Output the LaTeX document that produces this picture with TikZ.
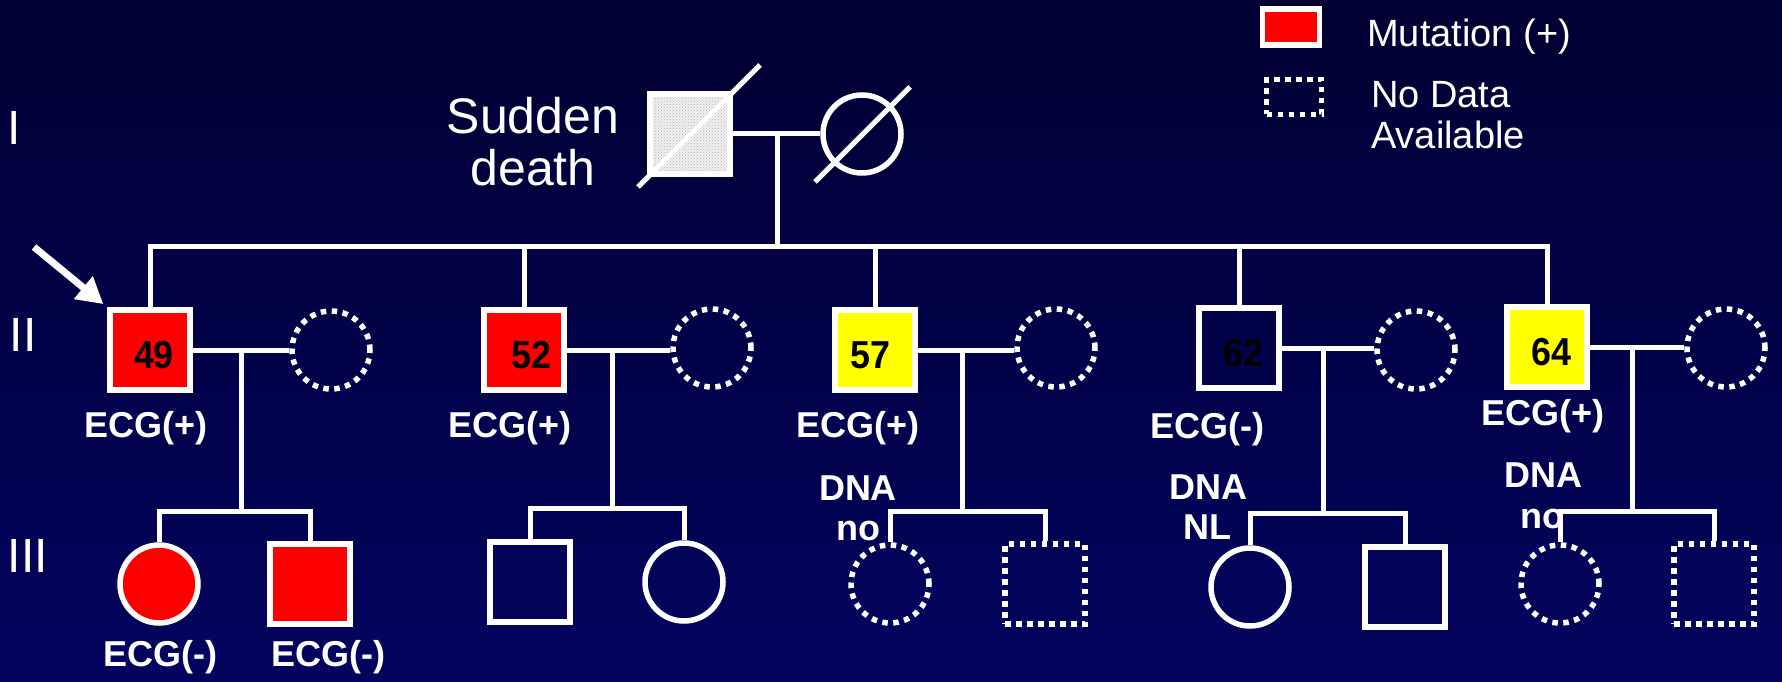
\documentclass[tikz,border=0pt]{standalone}
\usepackage{fontspec}
\setmainfont{Liberation Sans}
\newfontfamily\numfont[FakeStretch=0.92]{Liberation Sans}
\usetikzlibrary{arrows.meta,patterns}
\definecolor{bgtop}{RGB}{0,0,50}
\definecolor{bgbot}{RGB}{4,4,96}
\definecolor{mred}{RGB}{255,0,0}
\definecolor{myel}{RGB}{255,255,0}
\definecolor{deadfill}{RGB}{240,240,240}
\begin{document}
\begin{tikzpicture}[x=1pt,y=-1pt,
  conn/.style={draw=white, line width=5pt},
  male/.style={rectangle, draw=white, line width=5.5pt, minimum size=80pt, inner sep=0pt,
    font=\numfont\fontsize{39}{39}\selectfont\bfseries, text=black, text height=36pt, text depth=0pt},
  female/.style={circle, draw=white, line width=5.5pt, minimum size=78pt, inner sep=0pt},
  nodata/.style={dash pattern=on 5.5pt off 5.5pt},
  lbl/.style={text=white, font=\fontsize{36}{40}\selectfont\bfseries, inner sep=0pt, anchor=base},
  roman/.style={text=white, font=\fontsize{48}{48}\selectfont, inner sep=0pt},
  legtxt/.style={text=white, font=\fontsize{38}{40}\selectfont, inner sep=0pt, anchor=base west, align=left},
  slash/.style={draw=white, line width=5pt}
]
\shade[top color=bgtop, bottom color=bgbot] (0,0) rectangle (1782,682);
\useasboundingbox (0,0) rectangle (1782,682);

% Roman numerals
\node[roman] (g1) at (14,128) {I};
\node[roman] (g2) at (23,335) {II};
\node[roman] (g3) at (28,556) {III};

% Legend
\node[rectangle, draw=white, line width=5.5pt, fill=mred, minimum width=57pt, minimum height=36pt, inner sep=0pt] (lg1) at (1291,27) {};
\node[legtxt] (lgt1) at (1367,47) {Mutation (+)};
\node[rectangle, draw=white, line width=5.5pt, nodata, minimum width=55pt, minimum height=35pt, inner sep=0pt] (lg2) at (1294,97) {};
\node[legtxt] (lgt2) at (1371,148) {No Data\\Available};

% Generation I
\node[text=white, font=\fontsize{50}{52}\selectfont, align=center, inner sep=0pt, anchor=base] (sd) at (533,185) {Sudden\\death};
\node[male, preaction={fill=deadfill}, preaction={pattern=crosshatch dots, pattern color=gray!60}] (i1) at (690,134) {};
\node[female] (i2) at (862,134) {};
\draw[slash] (i1.center) ++(-52,53) -- ++(122,-122);
\draw[slash] (i2.center) ++(-47,48) -- ++(95,-95);

% Generation II
\node[male, fill=mred] (a) at (150,350) {\hspace*{8pt}49};
\node[female, nodata] (aw) at (331,350) {};
\node[male, fill=mred] (b) at (524,350) {\hspace*{14pt}52};
\node[female, nodata] (bw) at (712,348) {};
\node[male, fill=myel] (c) at (875,350) {57\hspace*{10pt}};
\node[female, nodata] (cw) at (1056,348) {};
\node[male] (d) at (1239,348) {\hspace*{8pt}62};
\node[female, nodata] (dw) at (1416,350) {};
\node[male, fill=myel] (e) at (1547,347) {\hspace*{8pt}64};
\node[female, nodata] (ew) at (1726,348) {};

% Generation III
\node[female, fill=mred] (a1) at (159,584) {};
\node[male, fill=mred] (a2) at (310,584) {};
\node[male] (b1) at (530,582) {};
\node[female] (b2) at (684,582) {};
\node[female, nodata] (c1) at (890,584) {};
\node[male, nodata] (c2) at (1045,584) {};
\node[female] (d1) at (1250,587) {};
\node[male] (d2) at (1405,587) {};
\node[female, nodata] (e1) at (1560,584) {};
\node[male, nodata] (e2) at (1714,584) {};

% Labels
\node[lbl] (la) at (146,437) {ECG(+)};
\node[lbl] (lb) at (510,437) {ECG(+)};
\node[lbl] (lc) at (858,437) {ECG(+)};
\node[lbl] (ld) at (1207,438) {ECG(-)};
\node[lbl] (le) at (1543,425) {ECG(+)};
\node[lbl] (lc2) at (858,500) {DNA};
\node[lbl] (lc3) at (858,540) {no};
\node[lbl] (ld2) at (1208,499) {DNA};
\node[lbl] (ld3) at (1207,539) {NL};
\node[lbl] (le2) at (1543,487) {DNA};
\node[lbl] (le3) at (1542,528) {no};
\node[lbl] (la1) at (160,666) {ECG(-)};
\node[lbl] (la2) at (328,666) {ECG(-)};

% Connectors generation I
\coordinate (mi) at (777,134);
\coordinate (si) at (777,246);
\draw[conn] (i1.east) -- (i2.west);
\draw[conn] (mi) -- (si);
\draw[conn] (a.north) -- (a.north |- si) -- (e.north |- si) -- (e.north);
\draw[conn] (b.north) -- (b.north |- si);
\draw[conn] (c.north) -- (c.north |- si);
\draw[conn] (d.north) -- (d.north |- si);

% Marriages generation II
\draw[conn] (a.east) -- (aw.west);
\draw[conn] (b.east) -- (b.east -| bw.west);
\draw[conn] (c.east) -- (c.east -| cw.west);
\draw[conn] (d.east) -- (d.east -| dw.west);
\draw[conn] (e.east) -- (e.east -| ew.west);

\coordinate (ma) at (241,350); \coordinate (sa) at (241,511);
\coordinate (mb) at (612,350); \coordinate (sb) at (612,508);
\coordinate (mc) at (962,350); \coordinate (sc) at (962,511);
\coordinate (md) at (1323,348); \coordinate (sd2) at (1323,513);
\coordinate (me) at (1632,347); \coordinate (se) at (1632,511);
\draw[conn] (ma) -- (sa);
\draw[conn] (mb) -- (sb);
\draw[conn] (mc) -- (sc);
\draw[conn] (md) -- (sd2);
\draw[conn] (me) -- (se);
\draw[conn] (a1.north) |- (sa) -| (a2.north);
\draw[conn] (b1.north) |- (sb) -| (b2.north);
\draw[conn] (c1.north) |- (sc) -| (c2.north);
\draw[conn] (d1.north) |- (sd2) -| (d2.north);
\draw[conn] (e1.north) |- (se) -| (e2.north);

% Proband arrow
\coordinate (arr) at (34,247);
\draw[white, line width=7pt, -{Triangle[length=26pt,width=28pt]}, shorten >=5pt] (arr) -- (a.north west);
\end{tikzpicture}
\end{document}
